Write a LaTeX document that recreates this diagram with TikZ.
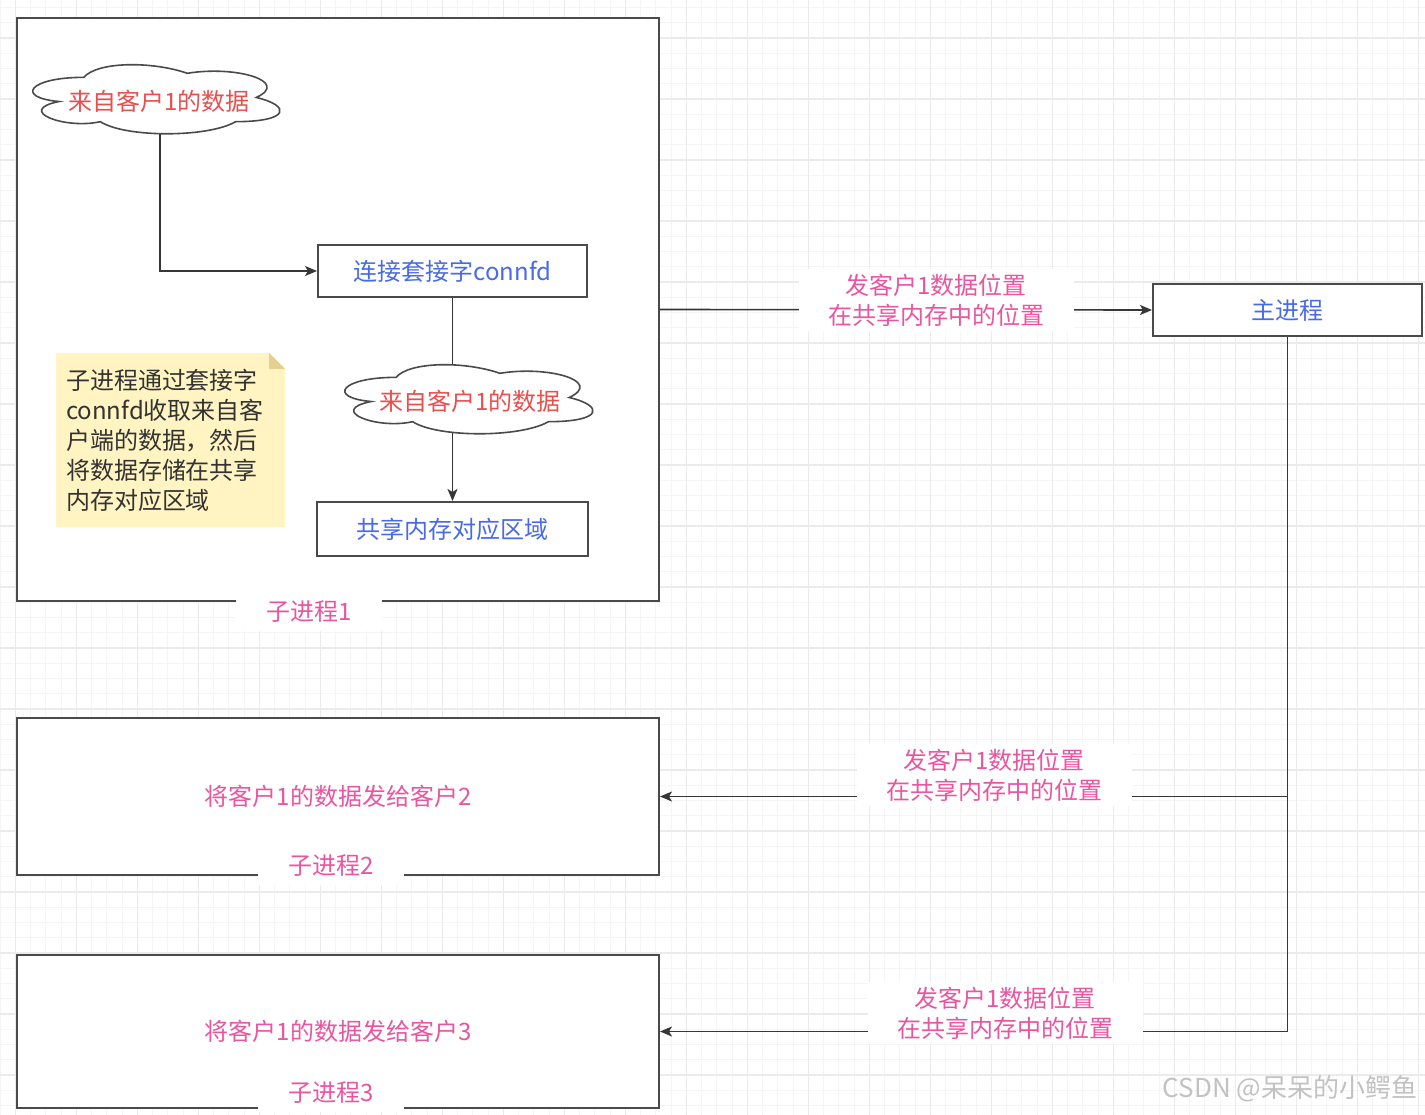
\documentclass[tikz,border=0pt]{standalone}
\usepackage{fontspec}
\setmainfont{Noto Sans CJK SC}
\usetikzlibrary{arrows.meta}
\definecolor{edgec}{HTML}{363636}
\definecolor{boxc}{HTML}{4A4A4A}
\definecolor{bluet}{HTML}{486AE8}
\definecolor{redt}{HTML}{EA4F4F}
\definecolor{pinkt}{HTML}{E9559F}
\definecolor{notefill}{HTML}{FFF4C2}
\definecolor{notefold}{HTML}{E4D08F}
\definecolor{notetext}{HTML}{333333}
\definecolor{gridminor}{HTML}{F5F5F5}
\definecolor{gridmajor}{HTML}{EBEBEB}
\definecolor{wmark}{HTML}{C2C2C2}
\pgfdeclarelayer{back}
\pgfdeclarelayer{edges}
\pgfdeclarelayer{clouds}
\pgfsetlayers{back,edges,clouds,main}
\tikzset{
  every node/.style={font=\fontsize{24}{30}\selectfont},
  container/.style 2 args={rectangle, draw=boxc, line width=2pt, fill=white, inner sep=0pt,
    minimum width=#1, minimum height=#2, text=pinkt},
  procbox/.style={rectangle, draw=boxc, line width=2pt, fill=white, inner sep=0pt,
    minimum width=270pt, minimum height=53pt, text=bluet},
  cloudbox/.style 2 args={rectangle, inner sep=0pt, minimum width=#1, minimum height=#2, text=redt},
  cloudline/.style={draw=boxc, line width=1.6pt, fill=white},
  notebox/.style={rectangle, inner sep=10pt, minimum width=229pt, minimum height=174pt,
    text width=209pt, align=left, text=notetext,
    path picture={
      \fill[notefill] (path picture bounding box.north west)
        -- ([xshift=-16pt]path picture bounding box.north east)
        -- ([yshift=-16pt]path picture bounding box.north east)
        -- (path picture bounding box.south east)
        -- (path picture bounding box.south west) -- cycle;
      \fill[notefold] ([xshift=-16pt]path picture bounding box.north east)
        -- ([xshift=-16pt,yshift=-16pt]path picture bounding box.north east)
        -- ([yshift=-16pt]path picture bounding box.north east) -- cycle;}},
  elabel/.style={rectangle, fill=white, text=pinkt, align=center, inner sep=0pt,
    minimum width=275pt, minimum height=62pt},
  clabel/.style={rectangle, fill=white, text=pinkt, inner sep=0pt,
    minimum width=146pt, minimum height=38pt},
  edge/.style={draw=edgec, line width=1.6pt},
  arr/.style={-{Stealth[length=12pt,width=10pt,inset=3pt]}},
  gmin/.style={draw=gridminor, line width=1pt},
  gmaj/.style={draw=gridmajor, line width=1.5pt}
}
\newcommand{\cloudpath}{(0.25,0.25) .. controls (0.05,0.25) and (0,0.5) .. (0.16,0.55)
      .. controls (0,0.66) and (0.18,0.9) .. (0.31,0.8)
      .. controls (0.4,1) and (0.7,1) .. (0.8,0.8)
      .. controls (1,0.8) and (1,0.6) .. (0.875,0.5)
      .. controls (1,0.3) and (0.8,0.1) .. (0.625,0.2)
      .. controls (0.5,0.05) and (0.3,0.05) .. (0.25,0.25) -- cycle}
\begin{document}
\begin{tikzpicture}[x=1pt,y=-1pt]
\useasboundingbox (0,0) rectangle (1425,1115);
\begin{pgfonlayer}{back}
  \fill[white] (0,0) rectangle (1425,1115);
  \foreach \i in {0,...,93} \draw[gmin] (15.25*\i,0) -- (15.25*\i,1115);
  \foreach \j in {0,...,72} \draw[gmin] (0,7.5+15.25*\j) -- (1425,7.5+15.25*\j);
  \foreach \m in {0,...,23} \draw[gmaj] (15.25+61*\m,0) -- (15.25+61*\m,1115);
  \foreach \m in {0,...,17} \draw[gmaj] (0,38+61*\m) -- (1425,38+61*\m);
  % containers
  \node[container={642pt}{583pt}] (p1) at (338,309.5) {};
  \node[container={642pt}{157pt}] (p2) at (338,796.5) {将客户1的数据发给客户2};
  \node[container={642pt}{153pt}] (p3) at (338,1031.5) {将客户1的数据发给客户3};
\end{pgfonlayer}

% inner nodes
\node[cloudbox={276pt}{80.6pt}] (cloud1) at (153,101) {\hspace*{12pt}来自客户1的数据};
\node[procbox, minimum width=269pt, minimum height=52pt] (conn) at (452.5,271) {连接套接字connfd};
\node[cloudbox={277pt}{80.6pt}] (cloud2) at (465.5,401) {\hspace*{9pt}来自客户1的数据};
\node[procbox, minimum width=271pt, minimum height=54pt] (shm) at (452.5,529) {共享内存对应区域};
\node[notebox] (note) at (170.5,440) {子进程通过套接字\\connfd收取来自客\\户端的数据，然后\\将数据存储在共享\\内存对应区域};
\node[procbox, minimum width=269pt, minimum height=52pt] (mainp) at (1287.5,310) {主进程};

% cloud outlines (below the cloud texts, above the connectors)
\begin{pgfonlayer}{clouds}
  \begin{scope}[shift={([yshift=3.3pt]cloud1.north west)}, x=276pt, y=-80.6pt]
    \draw[cloudline] \cloudpath;
  \end{scope}
  \begin{scope}[shift={([yshift=3.3pt]cloud2.north west)}, x=277pt, y=-80.6pt]
    \draw[cloudline] \cloudpath;
  \end{scope}
\end{pgfonlayer}

% container labels
\node[clabel] (l1) at (309,612) {子进程1};
\node[clabel] (l2) at (331,866) {子进程2};
\node[clabel] (l3) at (331,1093) {子进程3};

% edge labels
\node[elabel] (e1) at (936,300) {发客户1数据位置\\在共享内存中的位置};
\node[elabel] (e2) at (994,775) {发客户1数据位置\\在共享内存中的位置};
\node[elabel] (e3) at (1005,1013) {发客户1数据位置\\在共享内存中的位置};

% watermark
\node[anchor=east, text=wmark, font=\fontsize{26}{30}\selectfont] (wm) at (1421,1089) {CSDN @呆呆的小鳄鱼};

\begin{pgfonlayer}{edges}
  \draw[edge, arr] ([xshift=7pt,yshift=3pt]cloud1.center) |- (conn.west);
  \draw[edge, arr] (conn.south) -- (shm.north);
  \draw[edge, arr] (p1.east) -- (mainp.west);
  \draw[edge, arr] (mainp.south) |- (p2.east);
  \draw[edge, arr] (mainp.south) |- (p3.east);
\end{pgfonlayer}
\end{tikzpicture}
\end{document}
